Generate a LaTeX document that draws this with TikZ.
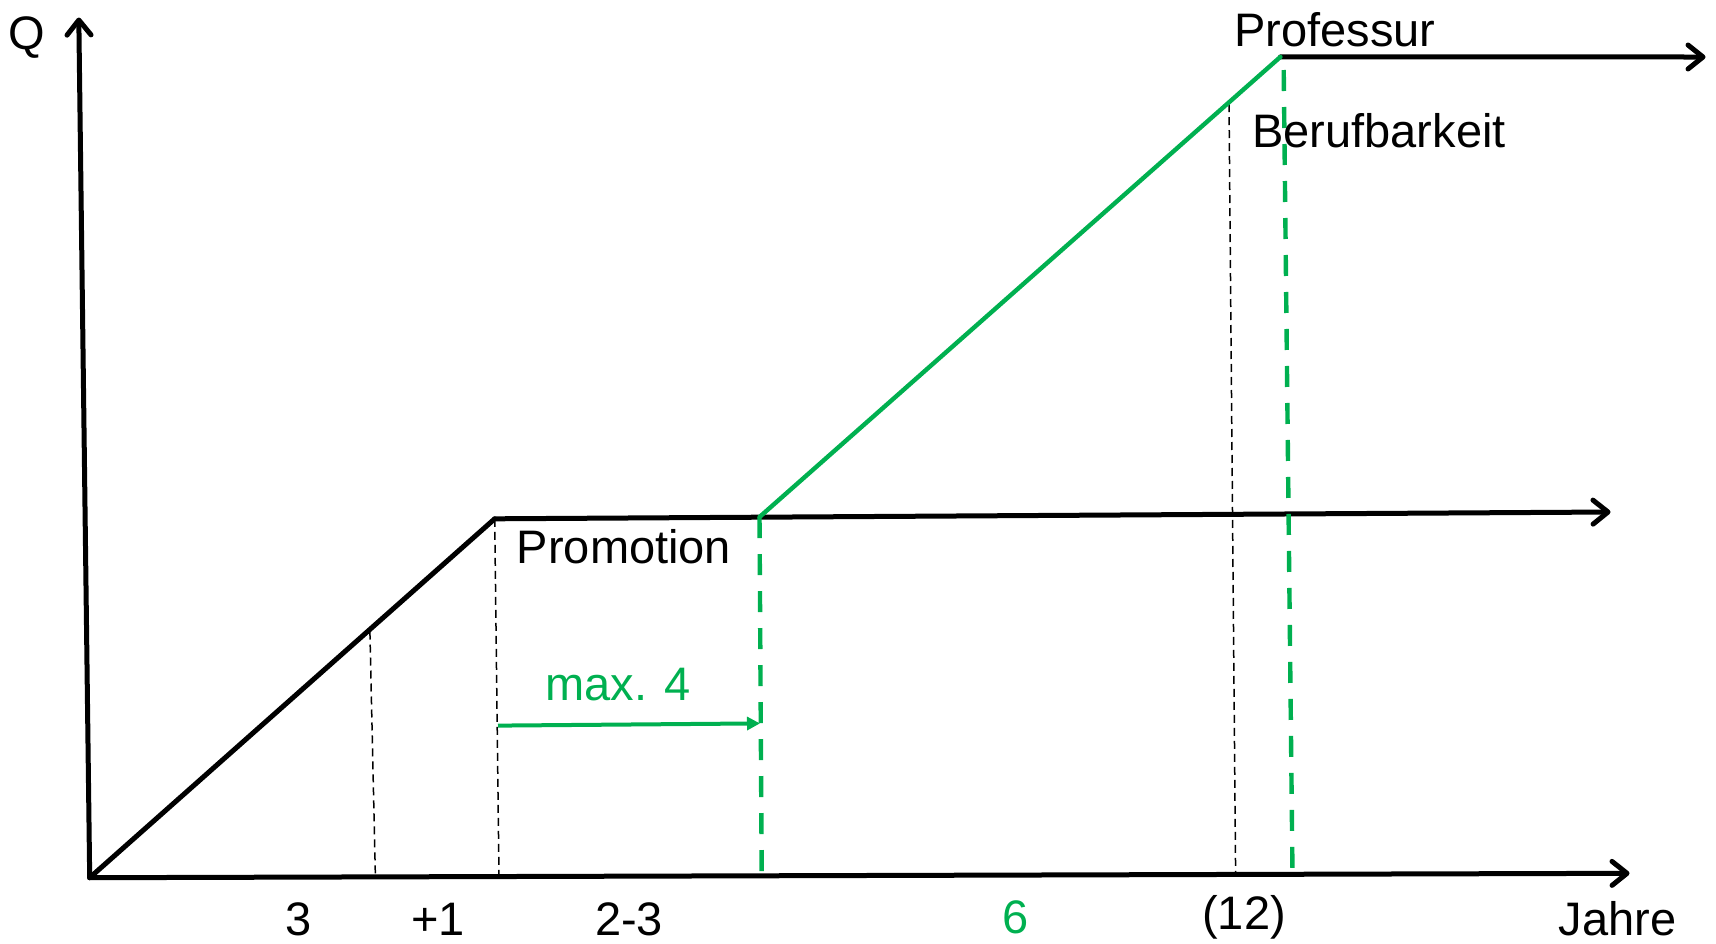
\documentclass[tikz,border=0pt]{standalone}
\usepackage{fontspec}
\setmainfont{Liberation Sans}
\usetikzlibrary{arrows.meta}
\definecolor{pgreen}{HTML}{00B050}
\begin{document}
\begin{tikzpicture}[x=0.5pt,y=-0.5pt,
  axis/.style={line width=2.5pt, line cap=round, line join=round,
    -{Straight Barb[length=7.5pt,width=12pt,line width=2.5pt,line cap=round,line join=round]}},
  curve/.style={line width=2.5pt, line cap=round, line join=round},
  thindash/.style={line width=0.75pt, dash pattern=on 4pt off 2.5pt},
  greendash/.style={pgreen, line width=2.2pt, dash pattern=on 10.5pt off 8pt},
  lbl/.style={inner sep=0pt, font=\fontsize{23.5}{28}\selectfont},
  glbl/.style={lbl, text=pgreen},
]
\useasboundingbox (0,0) rectangle (1716,943);
% key points
\coordinate (O) at (89.7,877.7);
\coordinate (Ytop) at (78.8,17.5);
\coordinate (Xtip) at (1629.5,873.3);
\coordinate (K1) at (494.7,518.8);
\coordinate (Ptip) at (1610.5,512);
\coordinate (G1) at (759.5,517.0);
\coordinate (G2) at (1280.4,56.9);
\coordinate (Rtip) at (1705.5,57);
% dashed guide ends
\coordinate (D1t) at (369.9,631.5);
\coordinate (D1b) at (375.4,876.9);
\coordinate (D2b) at (499,876.6);
\coordinate (D3t) at (1229,104);
\coordinate (D3b) at (1235.6,874.5);
\coordinate (E1b) at (761.7,875.8);
\coordinate (E2t) at (1283.7,70);
\coordinate (E2b) at (1292.5,874.2);
\coordinate (A1) at (498,725.6);
\coordinate (A2) at (760,723.4);

% thin dashed guides
\draw[thindash] (D1t) -- (D1b);
\draw[thindash] (K1) -- (D2b);
\draw[thindash] (D3t) -- (D3b);

% axes
\draw[axis] (O) -- (Ytop);
\draw[axis] (O) -- (Xtip);

% curve
\draw[curve] (O) -- (K1);
\draw[axis] (K1) -- (Ptip);
\draw[axis] (G2) -- (Rtip);
\draw[curve, pgreen, line width=2.2pt] (G1) -- (G2);

% green dashed
\draw[greendash] (G1) -- (E1b);
\draw[greendash] (E2t) -- (E2b);

% green arrow
\draw[pgreen, line width=2pt, -{Triangle[length=6.5pt,width=6.5pt]}] (A1) -- (A2);

% labels
\node[lbl] (q) at (27,38) {Q};
\node[lbl] (prof) at (1335,29.5) {Professur};
\node[lbl] (beruf) at (1379,131) {Berufbarkeit};
\node[lbl] (prom) at (624,547) {Promotion};
\node[glbl] (max) at (618,685) {max. 4};
\node[lbl] (l3) at (298.8,919) {3};
\node[lbl] (l1) at (437.8,919) {+1};
\node[lbl] (l23) at (629,919) {2-3};
\node[glbl] (l6) at (1015.6,917) {6};
\node[lbl] (l12) at (1244,917) {(12)};
\node[lbl] (jahre) at (1617.5,919) {Jahre};
\end{tikzpicture}
\end{document}
